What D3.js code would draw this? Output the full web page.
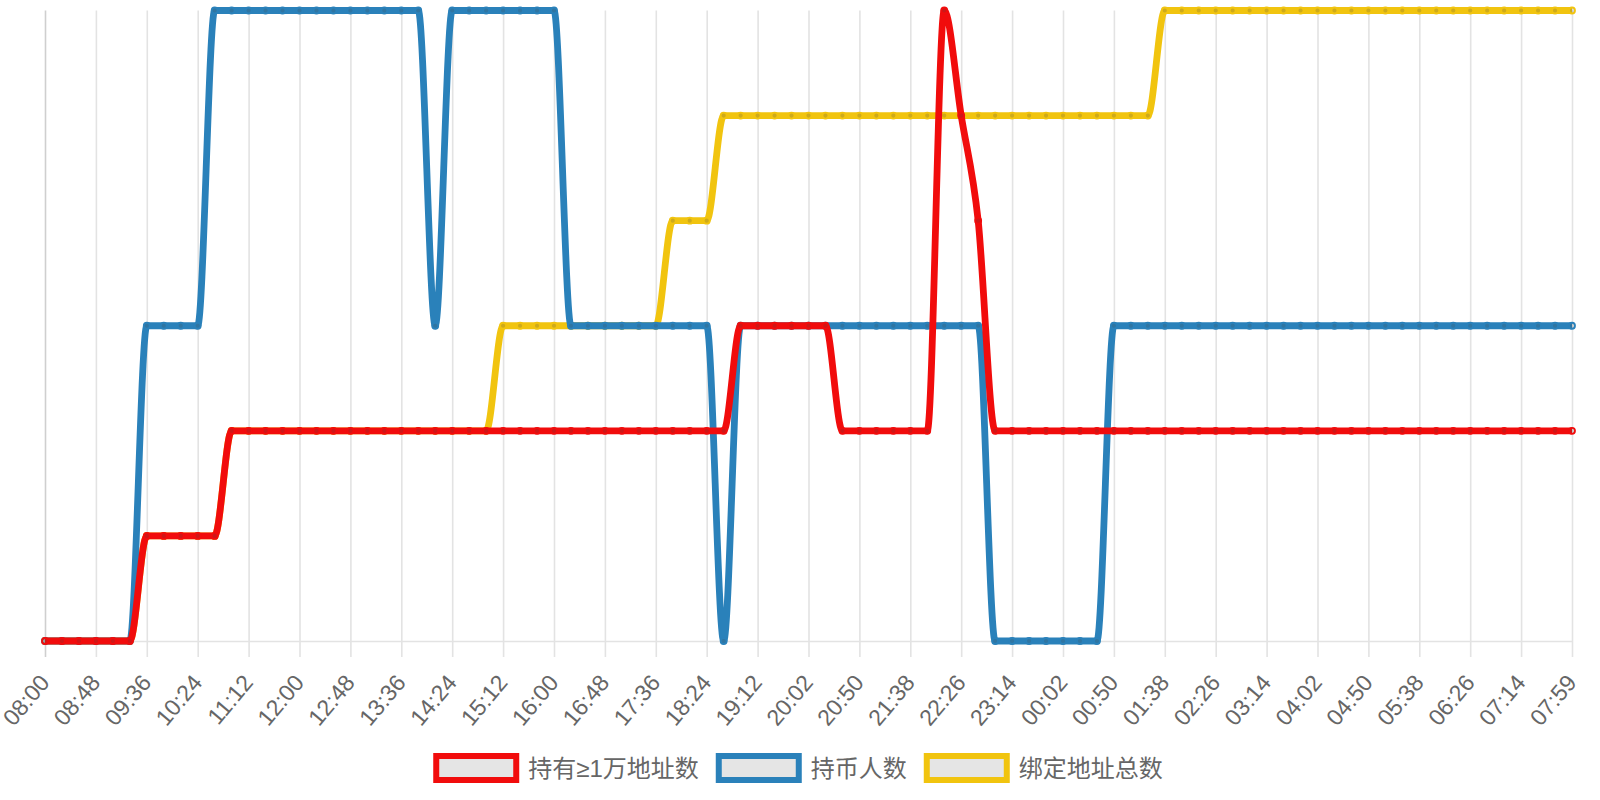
<!DOCTYPE html>
<html>
<head>
<meta charset="utf-8">
<script src="https://cdnjs.cloudflare.com/ajax/libs/d3/7.8.5/d3.min.js"></script>
<style>
  body { margin: 0; background: #fff; }
  svg { display: block; }
</style>
</head>
<body>
<svg id="chart" width="1600" height="800"></svg>
<script>
// tick labels shown on the x axis (every third data point)
const tickLabels = ["08:00", "08:48", "09:36", "10:24", "11:12", "12:00", "12:48", "13:36", "14:24", "15:12",
    "16:00", "16:48", "17:36", "18:24", "19:12", "20:02", "20:50", "21:38", "22:26", "23:14",
    "00:02", "00:50", "01:38", "02:26", "03:14", "04:02", "04:50", "05:38", "06:26", "07:14", "07:59"];

const seriesNames = ["持有≥1万地址数", "持币人数", "绑定地址总数"];
const seriesColors = ["#f10c0c", "#2a81ba", "#f1c40f"];

// 91 points each
const holders10k = [0, 0, 0, 0, 0, 0, 1, 1, 1, 1, 1, 2, 2, 2, 2, 2, 2, 2, 2, 2,
    2, 2, 2, 2, 2, 2, 2, 2, 2, 2, 2, 2, 2, 2, 2, 2, 2, 2, 2, 2,
    2, 3, 3, 3, 3, 3, 3, 2, 2, 2, 2, 2, 2, 6, 5, 4, 2, 2, 2, 2,
    2, 2, 2, 2, 2, 2, 2, 2, 2, 2, 2, 2, 2, 2, 2, 2, 2, 2, 2, 2,
    2, 2, 2, 2, 2, 2, 2, 2, 2, 2, 2];
const holders = [0, 0, 0, 0, 0, 0, 3, 3, 3, 3, 6, 6, 6, 6, 6, 6, 6, 6, 6, 6,
    6, 6, 6, 3, 6, 6, 6, 6, 6, 6, 6, 3, 3, 3, 3, 3, 3, 3, 3, 3,
    0, 3, 3, 3, 3, 3, 3, 3, 3, 3, 3, 3, 3, 3, 3, 3, 0, 0, 0, 0,
    0, 0, 0, 3, 3, 3, 3, 3, 3, 3, 3, 3, 3, 3, 3, 3, 3, 3, 3, 3,
    3, 3, 3, 3, 3, 3, 3, 3, 3, 3, 3];
const boundAddrs = [0, 0, 0, 0, 0, 0, 1, 1, 1, 1, 1, 2, 2, 2, 2, 2, 2, 2, 2, 2,
    2, 2, 2, 2, 2, 2, 2, 3, 3, 3, 3, 3, 3, 3, 3, 3, 3, 4, 4, 4,
    5, 5, 5, 5, 5, 5, 5, 5, 5, 5, 5, 5, 5, 5, 5, 5, 5, 5, 5, 5,
    5, 5, 5, 5, 5, 5, 6, 6, 6, 6, 6, 6, 6, 6, 6, 6, 6, 6, 6, 6,
    6, 6, 6, 6, 6, 6, 6, 6, 6, 6, 6];

const seriesData = [holders10k, holders, boundAddrs];

const svg = d3.select("#chart");
const plotLeft = 45, plotRight = 1572, plotTop = 10.5, plotBottom = 641;

const xScale = d3.scalePoint()
    .domain(d3.range(holders.length))
    .range([plotLeft, plotRight]);

const yScale = d3.scaleLinear()
    .domain([0, 6])
    .range([plotBottom, plotTop]);

const tickIdx = tickLabels.map((d, i) => i * 3);

// vertical gridlines (also draw the tick marks below the axis)
svg.append("g")
    .attr("class", "grid")
    .attr("transform", "translate(0," + (plotBottom + 16) + ")")
    .call(d3.axisBottom(xScale)
        .tickValues(tickIdx)
        .tickSize(-(plotBottom + 16 - plotTop))
        .tickFormat(""))
    .call(g => g.select(".domain").remove())
    .call(g => g.selectAll(".tick line")
        .attr("stroke", (d, i) => i === 0 ? "#cfcfcf" : "#e3e3e3")
        .attr("stroke-width", 1.6));

// x axis line
svg.append("line")
    .attr("x1", plotLeft).attr("x2", plotRight)
    .attr("y1", plotBottom + 0.5).attr("y2", plotBottom + 0.5)
    .attr("stroke", "#e3e3e3")
    .attr("stroke-width", 1.6);

// tick labels
svg.append("g")
    .attr("transform", "translate(0," + plotBottom + ")")
    .call(d3.axisBottom(xScale)
        .tickValues(tickIdx)
        .tickSize(0)
        .tickFormat((d, i) => tickLabels[i]))
    .call(g => g.select(".domain").remove())
    .call(g => g.selectAll(".tick text")
        .attr("x", 0).attr("y", 0).attr("dy", "0.35em")
        .attr("transform", "translate(-1,37) rotate(-50)")
        .attr("text-anchor", "end")
        .attr("fill", "#666")
        .style("font-family", "'Liberation Sans', Arial, sans-serif")
        .style("font-size", "23px"));

const line = d3.line()
    .x((d, i) => xScale(i))
    .y(d => yScale(d))
    .curve(d3.curveMonotoneX);

// draw last dataset first so the first one ends on top
for (let s = seriesData.length - 1; s >= 0; s--) {
    const g = svg.append("g").attr("class", "series-" + s);
    g.append("path")
        .attr("d", line(seriesData[s]))
        .attr("fill", "none")
        .attr("stroke", seriesColors[s])
        .attr("stroke-width", 6.8)
        .attr("stroke-linejoin", "round");
    g.selectAll("circle")
        .data(seriesData[s])
        .join("circle")
        .attr("cx", (d, i) => xScale(i))
        .attr("cy", d => yScale(d))
        .attr("r", 3)
        .attr("fill", "rgba(70,70,70,0.2)")
        .attr("stroke", seriesColors[s])
        .attr("stroke-width", 1.8);
}

// legend
const legend = svg.append("g").attr("class", "legend");
const boxW = 80, boxH = 24, boxStroke = 6, legendY = 768;
let cursor = 0;
seriesNames.forEach((name, i) => {
    const item = legend.append("g");
    item.append("rect")
        .attr("x", boxStroke / 2).attr("y", legendY - boxH / 2)
        .attr("width", boxW).attr("height", boxH)
        .attr("fill", "#e5e5e5")
        .attr("stroke", seriesColors[i])
        .attr("stroke-width", boxStroke);
    const t = item.append("text")
        .attr("x", boxW + boxStroke + 9)
        .attr("y", legendY)
        .attr("dy", "0.36em")
        .attr("fill", "#666")
        .style("font-family", "'Liberation Sans', 'Noto Sans CJK SC', sans-serif")
        .style("font-size", "24px")
        .text(name);
    const w = boxW + boxStroke + 9 + t.node().getComputedTextLength();
    item.attr("transform", "translate(" + cursor + ",0)");
    cursor += w + 17;
});
const totalW = cursor - 17;
legend.attr("transform", "translate(" + (798 - totalW / 2) + ",0)");
</script>
</body>
</html>
